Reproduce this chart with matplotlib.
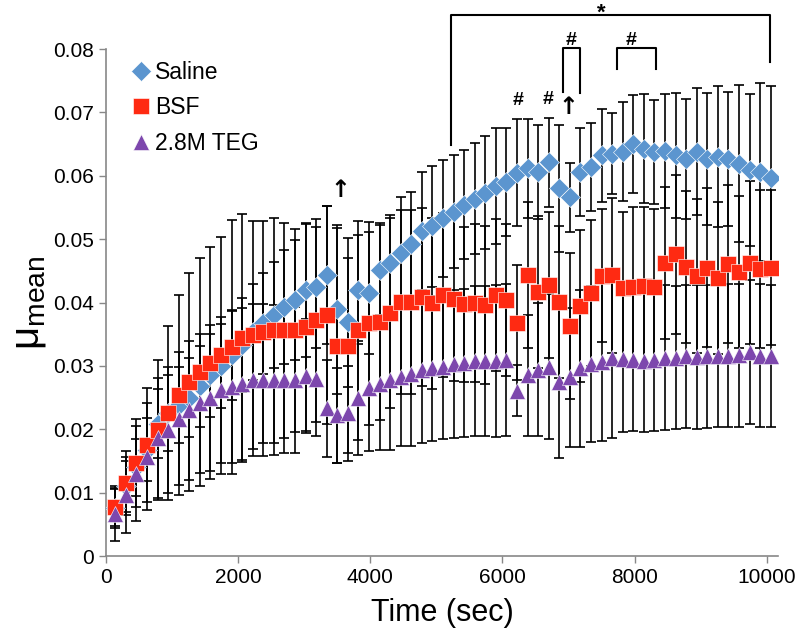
import matplotlib
matplotlib.use("Agg")
import matplotlib.pyplot as plt

plt.rcParams["font.family"] = ["Liberation Sans", "DejaVu Sans"]

# -----------------------------------------
# data
# -----------------------------------------
time = [140, 300, 460, 620, 780, 940, 1100, 1260, 1420, 1580, 1740, 1900, 2060,
        2220, 2380, 2540, 2700, 2860, 3020, 3180, 3340, 3500, 3660, 3820, 3980,
        4140, 4300, 4460, 4620, 4780, 4940, 5100, 5260, 5420, 5580, 5740, 5900,
        6060, 6220, 6380, 6540, 6700, 6860, 7020, 7180, 7340, 7500, 7660, 7820,
        7980, 8140, 8300, 8460, 8620, 8780, 8940, 9100, 9260, 9420, 9580, 9740,
        9900, 10060]

saline = [0.0075, 0.0110, 0.0140, 0.0168, 0.0209, 0.0225, 0.0238, 0.0250, 0.0268,
          0.0285, 0.0300, 0.0317, 0.0333, 0.0354, 0.0367, 0.0380, 0.0393, 0.0404,
          0.0419, 0.0424, 0.0443, 0.0389, 0.0369, 0.0420, 0.0415, 0.0451, 0.0462,
          0.0478, 0.0492, 0.0513, 0.0520, 0.0533, 0.0543, 0.0554, 0.0564, 0.0573,
          0.0584, 0.0590, 0.0605, 0.0612, 0.0606, 0.0621, 0.0580, 0.0566, 0.0606,
          0.0614, 0.0632, 0.0635, 0.0638, 0.0650, 0.0643, 0.0637, 0.0639, 0.0632,
          0.0626, 0.0638, 0.0627, 0.0630, 0.0626, 0.0619, 0.0609, 0.0606, 0.0596]
saline_err = [0.0030, 0.0040, 0.0045, 0.0050, 0.0055, 0.0060, 0.0060, 0.0062, 0.0064,
              0.0065, 0.0066, 0.0071, 0.0074, 0.0076, 0.0080, 0.0084, 0.0090, 0.0094,
              0.0105, 0.0095, 0.0109, 0.0134, 0.0102, 0.0086, 0.0096, 0.0071, 0.0076,
              0.0088, 0.0083, 0.0093, 0.0095, 0.0092, 0.0089, 0.0086, 0.0087, 0.0089,
              0.0091, 0.0085, 0.0085, 0.0078, 0.0074, 0.0070, 0.0100, 0.0054, 0.0069,
              0.0069, 0.0073, 0.0064, 0.0078, 0.0077, 0.0086, 0.0082, 0.0090, 0.0099,
              0.0095, 0.0100, 0.0104, 0.0111, 0.0106, 0.0124, 0.0120, 0.0140, 0.0145]

bsf = [0.0077, 0.0115, 0.0147, 0.0175, 0.0199, 0.0226, 0.0254, 0.0274, 0.0290,
       0.0304, 0.0317, 0.0330, 0.0344, 0.0349, 0.0354, 0.0356, 0.0356, 0.0356,
       0.0362, 0.0372, 0.0380, 0.0332, 0.0332, 0.0356, 0.0367, 0.0370, 0.0383,
       0.0401, 0.0401, 0.0409, 0.0399, 0.0412, 0.0406, 0.0397, 0.0399, 0.0396,
       0.0412, 0.0404, 0.0368, 0.0443, 0.0416, 0.0428, 0.0401, 0.0363, 0.0394,
       0.0415, 0.0442, 0.0443, 0.0423, 0.0425, 0.0426, 0.0425, 0.0463, 0.0476,
       0.0456, 0.0442, 0.0455, 0.0438, 0.0461, 0.0448, 0.0463, 0.0453, 0.0455]
bsf_err = [0.0030, 0.0050, 0.0070, 0.0090, 0.0110, 0.0137, 0.0158, 0.0172, 0.0180,
           0.0183, 0.0187, 0.0200, 0.0196, 0.0180, 0.0175, 0.0178, 0.0170, 0.0160,
           0.0164, 0.0160, 0.0172, 0.0185, 0.0170, 0.0173, 0.0160, 0.0155, 0.0150,
           0.0145, 0.0145, 0.0140, 0.0135, 0.0130, 0.0130, 0.0122, 0.0125, 0.0125,
           0.0120, 0.0120, 0.0091, 0.0115, 0.0120, 0.0115, 0.0120, 0.0115, 0.0120,
           0.0115, 0.0105, 0.0122, 0.0120, 0.0125, 0.0125, 0.0122, 0.0120, 0.0125,
           0.0120, 0.0122, 0.0125, 0.0120, 0.0125, 0.0120, 0.0128, 0.0125, 0.0122]

teg = [0.0067, 0.0096, 0.0130, 0.0157, 0.0186, 0.0199, 0.0217, 0.0230, 0.0241,
       0.0249, 0.0262, 0.0267, 0.0272, 0.0278, 0.0278, 0.0278, 0.0278, 0.0278,
       0.0284, 0.0280, 0.0233, 0.0222, 0.0225, 0.0249, 0.0265, 0.0272, 0.0278,
       0.0283, 0.0288, 0.0293, 0.0296, 0.0299, 0.0303, 0.0305, 0.0308, 0.0308,
       0.0308, 0.0310, 0.0261, 0.0285, 0.0294, 0.0299, 0.0275, 0.0282, 0.0296,
       0.0303, 0.0306, 0.0312, 0.0311, 0.0309, 0.0308, 0.0310, 0.0313, 0.0313,
       0.0315, 0.0314, 0.0315, 0.0316, 0.0316, 0.0317, 0.0322, 0.0316, 0.0316]
teg_err = [0.0044, 0.0060, 0.0075, 0.0085, 0.0095, 0.0100, 0.0105, 0.0110, 0.0110,
           0.0115, 0.0115, 0.0120, 0.0120, 0.0120, 0.0120, 0.0118, 0.0115, 0.0115,
           0.0090, 0.0090, 0.0076, 0.0075, 0.0075, 0.0090, 0.0100, 0.0105, 0.0110,
           0.0110, 0.0115, 0.0115, 0.0115, 0.0115, 0.0117, 0.0117, 0.0118, 0.0118,
           0.0120, 0.0120, 0.0040, 0.0095, 0.0105, 0.0115, 0.0120, 0.0110, 0.0124,
           0.0123, 0.0125, 0.0126, 0.0115, 0.0112, 0.0112, 0.0112, 0.0114, 0.0113,
           0.0113, 0.0113, 0.0113, 0.0113, 0.0113, 0.0113, 0.0113, 0.0113, 0.0112]

# significance marks: (x, y, text)
hash_marks = [(6240, 0.0718, "#"), (6690, 0.0721, "#"),
              (7045, 0.0814, "#"), (7950, 0.0814, "#")]
arrows = [(3540, 0.0577), (6990, 0.0709)]

# -----------------------------------------
# plot
# -----------------------------------------
fig = plt.figure(figsize=(8, 6.44), dpi=100)
ax = fig.add_axes([0.1325, 0.1366, 0.84, 0.7873])

series = [
    (saline, saline_err, "Saline", "D", "#5b95cf", 10),
    (bsf, bsf_err, "BSF", "s", "#ff2a12", 11),
    (teg, teg_err, "2.8M TEG", "^", "#7d47ad", 11.5),
]

for vals, err, label, mk, col, ms in series:
    ax.errorbar(time, vals, yerr=err, fmt="none", ecolor="black", elinewidth=1.2,
                capsize=3.8, capthick=1.2, zorder=2)
for k, (vals, err, label, mk, col, ms) in enumerate(series):
    ax.plot(time, vals, linestyle="none", marker=mk, color=col, markersize=ms,
            markeredgecolor="white", markeredgewidth=0.4, label=label, zorder=3 + k)

ax.set_xlim(0, 10170)
ax.set_ylim(0, 0.08)
ax.set_xticks([0, 2000, 4000, 6000, 8000, 10000])
ax.set_yticks([0, 0.01, 0.02, 0.03, 0.04, 0.05, 0.06, 0.07, 0.08])
ax.set_yticklabels(["0", "0.01", "0.02", "0.03", "0.04", "0.05", "0.06", "0.07", "0.08"])
ax.tick_params(labelsize=15, direction="out", length=5, color="#888888", width=1)
for side in ["top", "right"]:
    ax.spines[side].set_visible(False)
for side in ["left", "bottom"]:
    ax.spines[side].set_color("#888888")
    ax.spines[side].set_linewidth(1.2)

ax.set_xlabel("Time (sec)", fontsize=22, labelpad=8)
ax.set_ylabel(r"$\mathregular{μ_{mean}}$", fontsize=29, labelpad=4)

leg = ax.legend(loc="upper left", bbox_to_anchor=(0.025, 0.995), frameon=False,
                fontsize=16.5, handlelength=0.8, handletextpad=0.2, labelspacing=0.55,
                borderaxespad=0)

# significance brackets (drawn above the axes)
kw = dict(color="black", lw=1.5, clip_on=False)
ax.plot([5215, 5215, 10045, 10045], [0.0648, 0.0853, 0.0853, 0.0780], **kw)
ax.plot([6910, 6910, 7170, 7170], [0.0732, 0.0802, 0.0802, 0.0730], **kw)
ax.plot([7740, 7740, 8320, 8320], [0.0768, 0.0802, 0.0802, 0.0768], **kw)
ax.text(7500, 0.0856, "*", ha="center", va="center", fontsize=16, fontweight="bold",
        clip_on=False)
for x, y, s in hash_marks:
    ax.text(x, y, s, ha="center", va="center", fontsize=14, fontweight="bold",
            clip_on=False)
for x, y in arrows:
    ax.text(x, y, "↑", ha="center", va="center", fontsize=17, fontweight="bold",
            family="DejaVu Sans", clip_on=False)

fig.savefig("out.png", dpi=100)
